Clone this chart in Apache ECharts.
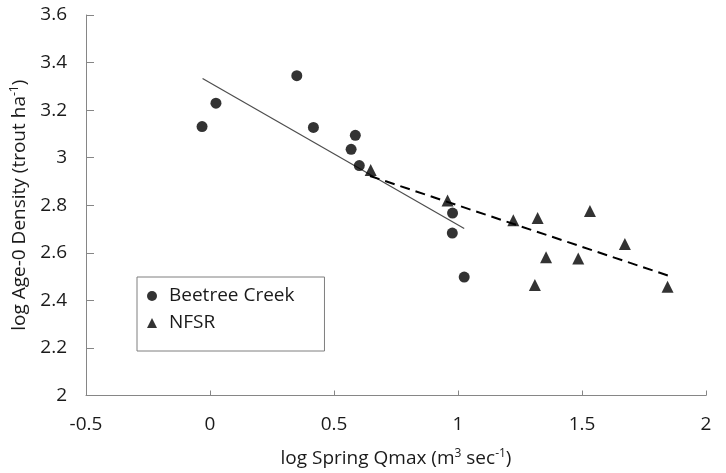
<!DOCTYPE html>
<html>
<head>
<meta charset="utf-8">
<script src="https://cdn.jsdelivr.net/npm/echarts@6/dist/echarts.min.js"></script>
<style>
html,body{margin:0;padding:0;background:#fff;}
#chart{width:726px;height:473px;}
</style>
</head>
<body>
<div id="chart"></div>
<script>
// Data
const beetreeCreek = [
  [-0.032, 3.131], [0.024, 3.229], [0.350, 3.345], [0.417, 3.127],
  [0.586, 3.094], [0.569, 3.035], [0.602, 2.967], [0.978, 2.767],
  [0.977, 2.683], [1.025, 2.498]
];
const nfsr = [
  [0.648, 2.948], [0.958, 2.820], [1.223, 2.737], [1.321, 2.746],
  [1.532, 2.776], [1.673, 2.637], [1.355, 2.581], [1.485, 2.576],
  [1.310, 2.465], [1.845, 2.457]
];
const beetreeTrend = [[-0.030, 3.333], [1.025, 2.702]];
const nfsrTrend = [[0.645, 2.923], [1.848, 2.504]];
const seriesNames = ['Beetree Creek', 'NFSR'];
const xAxisRange = { min: -0.5, max: 2, interval: 0.5 };
const yAxisRange = { min: 2, max: 3.6, interval: 0.2 };

const FONT = '"Open Sans", "Noto Sans", sans-serif';
const TEXT = '#1a1a1a';
const AXIS = '#868686';

const chart = echarts.init(document.getElementById('chart'), null, { renderer: 'canvas' });
chart.setOption({
  animation: false,
  backgroundColor: '#ffffff',
  textStyle: { fontFamily: FONT, color: TEXT },
  grid: { left: 86, right: 20, top: 15, bottom: 76, containLabel: false },
  legend: {
    data: seriesNames,
    orient: 'vertical',
    left: 137,
    top: 277,
    padding: [9, 30, 18, 10],
    itemWidth: 10,
    itemHeight: 10,
    itemGap: 7,
    borderColor: '#7f7f7f',
    borderWidth: 1,
    borderRadius: 0,
    backgroundColor: '#ffffff',
    textStyle: { fontFamily: FONT, fontSize: 19, color: TEXT, lineHeight: 20, padding: [0, 0, 0, 7] }
  },
  xAxis: {
    type: 'value',
    min: xAxisRange.min, max: xAxisRange.max, interval: xAxisRange.interval,
    name: 'log Spring Qmax (m{sup|3} sec{sup|-1})',
    nameLocation: 'middle',
    nameGap: 52,
    nameTextStyle: {
      fontFamily: FONT, fontSize: 19, color: TEXT,
      rich: { sup: { fontFamily: FONT, fontSize: 12, color: TEXT, verticalAlign: 'top', lineHeight: 22, padding: [0, 0, 8, 0] } }
    },
    axisLine: { show: true, onZero: false, lineStyle: { color: AXIS, width: 1 } },
    axisTick: { show: true, inside: true, length: 5, lineStyle: { color: AXIS } },
    axisLabel: { fontFamily: FONT, fontSize: 19, color: TEXT, margin: 20 },
    splitLine: { show: false }
  },
  yAxis: {
    type: 'value',
    min: yAxisRange.min, max: yAxisRange.max, interval: yAxisRange.interval,
    name: 'log Age-0 Density (trout ha{sup|-1})',
    nameLocation: 'middle',
    nameGap: 53,
    nameRotate: 90,
    nameTextStyle: {
      fontFamily: FONT, fontSize: 19, color: TEXT,
      rich: { sup: { fontFamily: FONT, fontSize: 12, color: TEXT, verticalAlign: 'top', lineHeight: 22, padding: [0, 0, 8, 0] } }
    },
    axisLine: { show: true, onZero: false, lineStyle: { color: AXIS, width: 1 } },
    axisTick: { show: true, inside: true, length: 8, lineStyle: { color: AXIS } },
    axisLabel: { fontFamily: FONT, fontSize: 19, color: TEXT, margin: 19 },
    splitLine: { show: false }
  },
  series: [
    {
      name: seriesNames[0], type: 'scatter', data: beetreeCreek,
      symbol: 'circle', symbolSize: 11,
      itemStyle: { color: '#000000' }, z: 3
    },
    {
      name: seriesNames[1], type: 'scatter', data: nfsr,
      symbol: 'triangle', symbolSize: 12,
      itemStyle: { color: '#000000' }, z: 3
    },
    {
      name: 'Beetree trend', type: 'line', data: beetreeTrend,
      symbol: 'none', silent: true,
      lineStyle: { color: '#4d4d4d', width: 1.2, type: 'solid' }, z: 2
    },
    {
      name: 'NFSR trend', type: 'line', data: nfsrTrend,
      symbol: 'none', silent: true,
      lineStyle: { color: '#000000', width: 2, type: [10, 6] }, z: 2
    }
  ]
});
</script>
</body>
</html>
